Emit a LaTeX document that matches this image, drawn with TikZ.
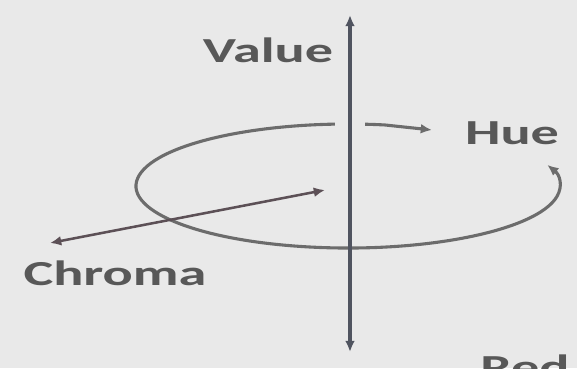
\documentclass[tikz,border=0pt]{standalone}
\usepackage{fontspec}
\setmainfont{Carlito}
\usetikzlibrary{arrows.meta}
\definecolor{bggray}{RGB}{233,233,233}
\definecolor{axisgray}{RGB}{80,84,96}
\definecolor{ringgray}{RGB}{108,108,108}
\definecolor{chromagray}{RGB}{92,80,86}
\definecolor{txtgray}{RGB}{88,88,88}
\newcommand{\widelabel}[1]{\scalebox{1.6}[1]{#1}}

\begin{document}
\begin{tikzpicture}[
  lbl/.style={font=\fontsize{25}{30}\selectfont\bfseries,text=txtgray,inner sep=0pt},
  tipboth/.style={{Latex[length=8pt,width=7pt]}-{Latex[length=8pt,width=7pt]}}]
  \fill[bggray] (0,0) rectangle (14.425,9.2);
  \useasboundingbox (0,0) rectangle (14.425,9.2);
  % hue ring, open on the right
  \coordinate (hueTip) at (10.8,5.95);
  \coordinate (ringStart) at (9.62,6.076);
  \draw[ringgray,line width=2.2pt,tipboth] (hueTip) -- (ringStart)
    arc[start angle=80,end angle=380,x radius=5.3,y radius=1.55];
  % chroma
  \coordinate (chromaIn) at (8.125,4.45);
  \coordinate (chromaOut) at (1.25,3.125);
  \draw[chromagray,line width=1.8pt,tipboth] (chromaOut) -- (chromaIn);
  % value axis, in front of the ring
  \coordinate (valueTop) at (8.75,8.825);
  \coordinate (valueBot) at (8.75,0.4);
  \coordinate (gapLo) at (8.75,5.7);
  \coordinate (gapHi) at (8.75,6.5);
  \draw[bggray,line width=0.75cm] (gapLo) -- (gapHi);
  \draw[axisgray,line width=2.8pt,tipboth] (valueBot) -- (valueTop);
  \node[lbl] (value) at (6.7,7.95) {\widelabel{Value}};
  \node[lbl] (hue) at (12.8,5.875) {\widelabel{Hue}};
  \node[lbl] (chroma) at (2.875,2.375) {\widelabel{Chroma}};
  \node[lbl,anchor=north west] (red) at (12.0,0.33) {\widelabel{Red}};
\end{tikzpicture}
\end{document}
